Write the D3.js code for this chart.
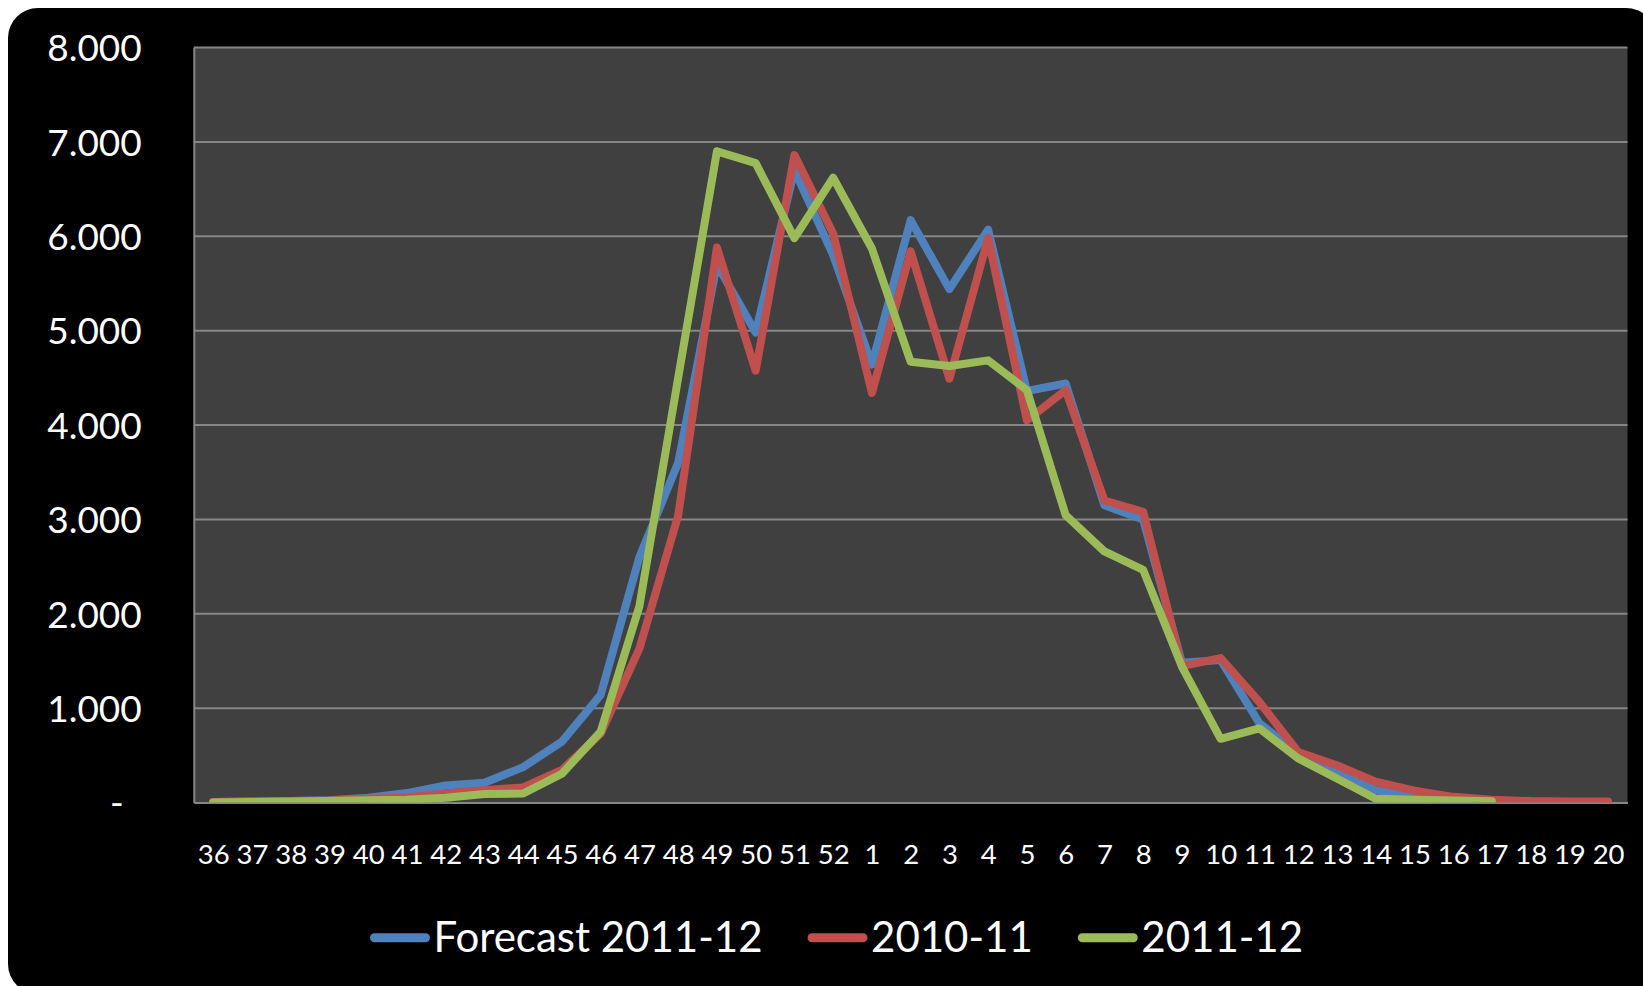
<!DOCTYPE html>
<html>
<head>
<meta charset="utf-8">
<script src="https://cdn.jsdelivr.net/npm/d3@7"></script>
<style>
  html, body { margin: 0; padding: 0; background: #ffffff; }
  svg { display: block; }
  text { font-family: Lato, "Open Sans", "Noto Sans", sans-serif; fill: #ffffff; }
</style>
</head>
<body>
<svg id="chart" width="1643" height="986"></svg>
<script>
// Weekly counts: season weeks 36..52 followed by weeks 1..20
const weeks = ["36","37","38","39","40","41","42","43","44","45","46","47","48","49","50","51","52",
               "1","2","3","4","5","6","7","8","9","10","11","12","13","14","15","16","17","18","19","20"];

const forecast201112 = [5, 10, 15, 25, 50, 100, 180, 210, 375, 645, 1140, 2600, 3600, 5700, 4980, 6700, 5800,
                        4640, 6170, 5440, 6070, 4360, 4440, 3150, 3000, 1480, 1510, 840, 520, 320, 130, 55, 30, 15];

const season201011 = [5, 10, 15, 20, 40, 55, 95, 130, 160, 345, 730, 1630, 3040, 5880, 4575, 6860, 6030,
                      4340, 5840, 4490, 5980, 4050, 4370, 3200, 3080, 1445, 1530, 1065, 535, 395, 220, 125, 60, 30, 15, 10, 10];

const season201112 = [0, 5, 10, 15, 25, 30, 50, 90, 95, 305, 750, 2080, 4500, 6900, 6775, 5980, 6620,
                      5870, 4670, 4625, 4685, 4370, 3045, 2660, 2465, 1440, 675, 785, 467, 255, 40, 30, 20, 12];

const seriesNames = ["Forecast 2011-12", "2010-11", "2011-12"];
const seriesColors = ["#4F81BD", "#C0504D", "#9BBB59"];
const yTicks = [0, 1000, 2000, 3000, 4000, 5000, 6000, 7000, 8000];

const series = [forecast201112, season201011, season201112].map((vals, k) => ({
  name: seriesNames[k],
  color: seriesColors[k],
  points: vals.map((v, i) => ({ week: weeks[i], value: v }))
}));

const svg = d3.select("#chart");
const plot = { left: 193.8, right: 1627.5, top: 47.5, bottom: 802.5 };

// Chart area: black panel with rounded corners
svg.append("rect")
  .attr("x", 8).attr("y", 8)
  .attr("width", 1648).attr("height", 986)
  .attr("rx", 30).attr("ry", 30)
  .attr("fill", "#000000");

const x = d3.scalePoint().domain(weeks).range([plot.left, plot.right]).padding(0.5);
const y = d3.scaleLinear().domain([0, 8000]).range([plot.bottom, plot.top]);

// Plot area
svg.append("rect")
  .attr("x", plot.left).attr("y", plot.top)
  .attr("width", plot.right - plot.left).attr("height", plot.bottom - plot.top)
  .attr("fill", "#404040");

svg.append("defs").append("clipPath").attr("id", "plotClip")
  .append("rect")
  .attr("x", plot.left).attr("y", plot.top - 10)
  .attr("width", plot.right - plot.left).attr("height", plot.bottom - plot.top + 10);

// Horizontal gridlines
svg.append("g")
  .selectAll("line")
  .data(yTicks.filter(t => t > 0))
  .join("line")
  .attr("x1", plot.left).attr("x2", plot.right)
  .attr("y1", d => y(d)).attr("y2", d => y(d))
  .attr("stroke", "#868686").attr("stroke-width", 2);

// Thousands separator as "."; zero shown as a dash
const locale = d3.formatLocale({ decimal: ",", thousands: ".", grouping: [3], currency: ["", ""] });
const fmt = locale.format(",");

const yAxis = svg.append("g")
  .attr("transform", `translate(${plot.left},0)`)
  .call(d3.axisLeft(y).tickValues(yTicks).tickSize(0).tickPadding(52)
    .tickFormat(d => d === 0 ? "-" : fmt(d)));
yAxis.select(".domain").attr("stroke", "#868686").attr("stroke-width", 2);
yAxis.selectAll("text")
  .attr("font-family", null).attr("font-size", null)
  .style("font-size", "37px").attr("dy", "0.36em")
  .attr("dx", d => d === 0 ? -18 : 0);

const xAxis = svg.append("g")
  .attr("transform", `translate(0,${plot.bottom})`)
  .call(d3.axisBottom(x).tickSize(0));
xAxis.select(".domain").attr("stroke", "#868686").attr("stroke-width", 2);
xAxis.selectAll("text")
  .attr("font-family", null).attr("font-size", null)
  .style("font-size", "27.5px")
  .attr("y", 61).attr("dy", 0);

// Series lines
const line = d3.line()
  .x(d => x(d.week))
  .y(d => y(d.value));

svg.append("g").attr("clip-path", "url(#plotClip)")
  .selectAll("path")
  .data(series)
  .join("path")
  .attr("d", d => line(d.points))
  .attr("fill", "none")
  .attr("stroke", d => d.color)
  .attr("stroke-width", 8)
  .attr("stroke-linejoin", "round")
  .attr("stroke-linecap", "round");

// Legend
const legend = svg.append("g");
let lx = 370;
const swatchLen = 60, legendGap = 45, swatchY = 937.7, textBase = 951.7;
series.forEach(s => {
  legend.append("line")
    .attr("x1", lx + 4.5).attr("x2", lx + swatchLen - 4.5)
    .attr("y1", swatchY).attr("y2", swatchY)
    .attr("stroke", s.color).attr("stroke-width", 9)
    .attr("stroke-linecap", "round");
  const t = legend.append("text")
    .attr("x", lx + swatchLen + 3.5).attr("y", textBase)
    .style("font-size", "42px")
    .text(s.name);
  lx += swatchLen + 3.5 + t.node().getComputedTextLength() + legendGap;
});
</script>
</body>
</html>
